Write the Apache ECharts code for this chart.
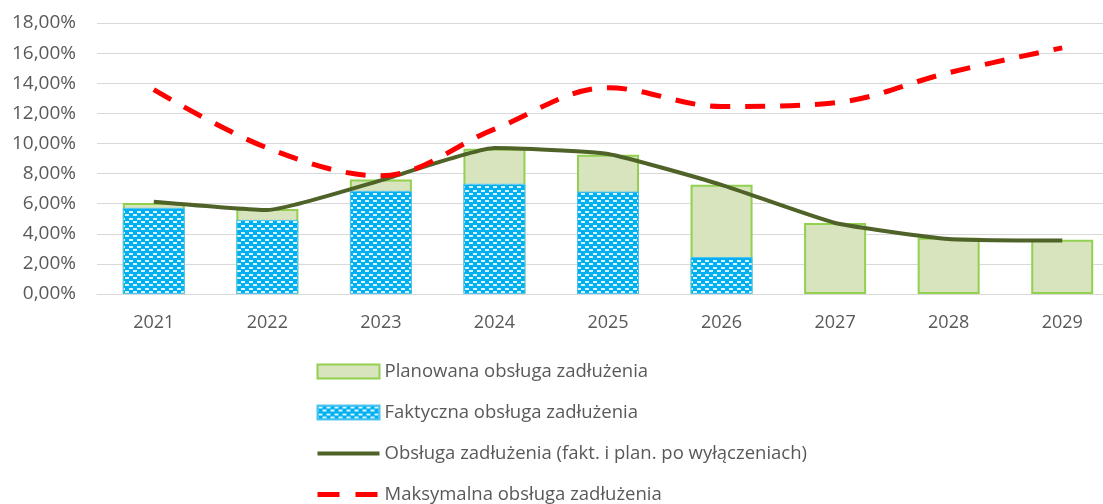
<!DOCTYPE html>
<html>
<head>
<meta charset="utf-8">
<script src="https://cdn.jsdelivr.net/npm/echarts@6/dist/echarts.min.js"></script>
<style>
  html, body { margin: 0; padding: 0; background: #fff; overflow: hidden; }
  #chart { width: 1140px; height: 560px; }
</style>
</head>
<body>
<div id="chart"></div>
<script>
// dane
var years = ['2021', '2022', '2023', '2024', '2025', '2026', '2027', '2028', '2029'];
var planowana = [6.05, 5.65, 7.6, 9.65, 9.25, 7.25, 4.72, 3.73, 3.6];
var faktyczna = [5.72, 4.92, 6.85, 7.32, 6.8, 2.46, null, null, null];
var poWylaczeniach = [6.13, 5.58, 7.55, 9.7, 9.3, 7.25, 4.72, 3.66, 3.55];
var maksymalna = [13.57, 9.7, 7.85, 10.95, 13.7, 12.45, 12.7, 14.7, 16.35];
var yTicks = [0, 2, 4, 6, 8, 10, 12, 14, 16, 18];

// wzor kreskowany dla faktycznej obslugi
function makePattern() {
    var c = document.createElement('canvas');
    c.width = 8;
    c.height = 7;
    var ctx = c.getContext('2d');
    ctx.fillStyle = '#00b0f0';
    ctx.fillRect(0, 0, 8, 7);
    ctx.fillStyle = '#d9f4ff';
    ctx.fillRect(1, 1, 4, 2);
    ctx.fillRect(5, 4, 3, 2);
    ctx.fillRect(0, 4, 1, 2);
    return c;
}

var textColor = '#595959';
var font = 'Open Sans';

var option = {
    animation: false,
    grid: {
        left: 97,
        top: 23,
        width: 1022,
        height: 271
    },
    legend: {
        orient: 'vertical',
        left: 310,
        top: 357,
        itemWidth: 62,
        itemHeight: 14,
        itemGap: 22,
        textStyle: { color: textColor, fontSize: 18.5, fontFamily: font },
        data: [
            { name: 'Planowana obsługa zadłużenia', icon: 'rect' },
            { name: 'Faktyczna obsługa zadłużenia', icon: 'rect' },
            {
                name: 'Obsługa zadłużenia (fakt. i plan. po wyłączeniach)',
                itemStyle: { opacity: 0 },
                lineStyle: { width: 4 }
            },
            {
                name: 'Maksymalna obsługa zadłużenia',
                itemStyle: { opacity: 0 },
                lineStyle: { width: 5, type: [22, 16] }
            }
        ]
    },
    xAxis: {
        type: 'category',
        data: years,
        axisLine: { lineStyle: { color: '#d9d9d9' } },
        axisTick: { show: false },
        axisLabel: { color: textColor, fontSize: 18, fontFamily: font, margin: 20 }
    },
    yAxis: {
        type: 'value',
        min: 0,
        max: yTicks[yTicks.length - 1],
        interval: 2,
        splitLine: { lineStyle: { color: '#d9d9d9' } },
        axisLabel: {
            color: textColor, fontSize: 19, fontFamily: font, margin: 21,
            formatter: function (v) { return v.toFixed(2).replace('.', ',') + '%'; }
        }
    },
    series: [
        {
            name: 'Planowana obsługa zadłużenia',
            type: 'bar',
            data: planowana,
            barWidth: 62,
            barGap: '-100%',
            itemStyle: { color: '#d7e4bd', borderColor: '#92d050', borderWidth: 2 }
        },
        {
            name: 'Faktyczna obsługa zadłużenia',
            type: 'bar',
            data: faktyczna,
            barWidth: 62,
            itemStyle: {
                color: { image: makePattern(), repeat: 'repeat' },
                borderColor: '#4fc3f0',
                borderWidth: 1
            }
        },
        {
            name: 'Obsługa zadłużenia (fakt. i plan. po wyłączeniach)',
            type: 'line',
            data: poWylaczeniach,
            symbol: 'none',
            smooth: 0.15,
            lineStyle: { color: '#4f6228', width: 4 },
            itemStyle: { color: '#4f6228' }
        },
        {
            name: 'Maksymalna obsługa zadłużenia',
            type: 'line',
            data: maksymalna,
            symbol: 'none',
            smooth: 0.35,
            lineStyle: { color: '#ff0000', width: 5, type: [20, 15] },
            itemStyle: { color: '#ff0000' }
        }
    ]
};

var myChart = echarts.init(document.getElementById('chart'));
myChart.setOption(option);
</script>
</body>
</html>
